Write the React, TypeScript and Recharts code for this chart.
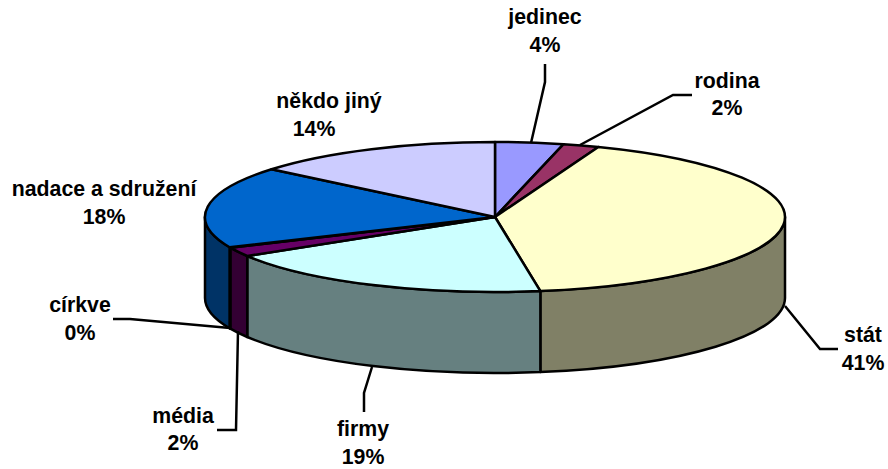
import { Pie, PieChart } from 'recharts'

const categories = ['jedinec', 'rodina', 'stát', 'firmy', 'média', 'církve', 'nadace a sdružení', 'někdo jiný']
const values = [3.8, 2.0, 41.7, 18.8, 2.0, 0.1, 17.6, 14.0]
const percentLabels = ['4%', '2%', '41%', '19%', '2%', '0%', '18%', '14%']
const topColors = ['#9999FF', '#993366', '#FFFFCC', '#CCFFFF', '#660066', '#FF8080', '#0066CC', '#CCCCFF']
const sideColors = ['#4D4D80', '#4D1A33', '#808066', '#668080', '#330033', '#804040', '#003366', '#666680']

const CX = 495
const CY = 217
const RX = 290
const RY = 75
const DEPTH = 81
const INK = '#000000'

// label centre x, first and second baseline, then the leader polyline
const labelLayout = [
  { x: 545, y1: 24, y2: 52, x2: 545, leader: '545,64 545,82 531,143' },
  { x: 727, y1: 88, y2: 115, x2: 727, leader: '692,95 673,95 580,145' },
  { x: 863, y1: 342, y2: 370, x2: 863, leader: '785,306 820,349 838,349' },
  { x: 363, y1: 436, y2: 464, x2: 363, leader: '372,367 364,393 364,412' },
  { x: 183, y1: 423, y2: 450, x2: 183, leader: '238,331 236,430 217,430' },
  { x: 80, y1: 312, y2: 340, x2: 80, leader: '113,319 130,319 230,328' },
  { x: 104, y1: 196, y2: 224, x2: 104, leader: '' },
  { x: 329, y1: 108, y2: 136, x2: 314, leader: '' },
]

const tableData = categories.map((name, i) => ({
  name,
  value: values[i],
  fill: topColors[i],
  side: sideColors[i],
}))

const pt = (deg: number, dy = 0) => {
  const a = (deg * Math.PI) / 180
  return `${CX + RX * Math.cos(a)} ${CY + dy - RY * Math.sin(a)}`
}

// recharts hands over circular angles, they get squashed to an ellipse here
function Slice3D(props: any) {
  const hi = Math.max(props.startAngle, props.endAngle)
  const lo = Math.min(props.startAngle, props.endAngle)
  const large = hi - lo > 180 ? 1 : 0
  const top = `M ${CX} ${CY} L ${pt(hi)} A ${RX} ${RY} 0 ${large} 1 ${pt(lo)} Z`

  const wallHi = Math.min(hi, 0)
  const wallLo = Math.max(lo, -180)
  const hasWall = wallHi > wallLo
  const wall = hasWall
    ? `M ${pt(wallHi)} A ${RX} ${RY} 0 0 1 ${pt(wallLo)} L ${pt(wallLo, DEPTH)} A ${RX} ${RY} 0 0 0 ${pt(wallHi, DEPTH)} Z`
    : ''

  return (
    <g>
      {hasWall && <path d={wall} fill={props.side} stroke={INK} strokeWidth={2.5} strokeLinejoin="round" />}
      <path d={top} fill={props.fill} stroke={INK} strokeWidth={2.5} strokeLinejoin="round" />
    </g>
  )
}

function SliceLabel(props: any) {
  const i = props.index
  const l = labelLayout[i]
  return (
    <g>
      {l.leader && <polyline points={l.leader} fill="none" stroke={INK} strokeWidth={2.5} />}
      <text x={l.x} y={l.y1} textAnchor="middle" fontFamily="Liberation Sans" fontWeight="bold" fontSize={21.3} fill={INK}>
        {categories[i]}
      </text>
      <text x={l.x2} y={l.y2} textAnchor="middle" fontFamily="Liberation Sans" fontWeight="bold" fontSize={21.3} fill={INK}>
        {percentLabels[i]}
      </text>
    </g>
  )
}

export default function App() {
  return (
    <div style={{ position: 'absolute', left: 0, top: 0, width: 888, height: 469 }}>
      <PieChart width={888} height={469} margin={{ top: 0, right: 0, bottom: 0, left: 0 }}>
        <Pie
          data={tableData}
          dataKey="value"
          nameKey="name"
          cx={CX}
          cy={CY}
          innerRadius={0}
          outerRadius={RX}
          startAngle={90}
          endAngle={-270}
          stroke={INK}
          shape={Slice3D}
          label={SliceLabel}
          labelLine={false}
          isAnimationActive={false}
        />
      </PieChart>
    </div>
  )
}
